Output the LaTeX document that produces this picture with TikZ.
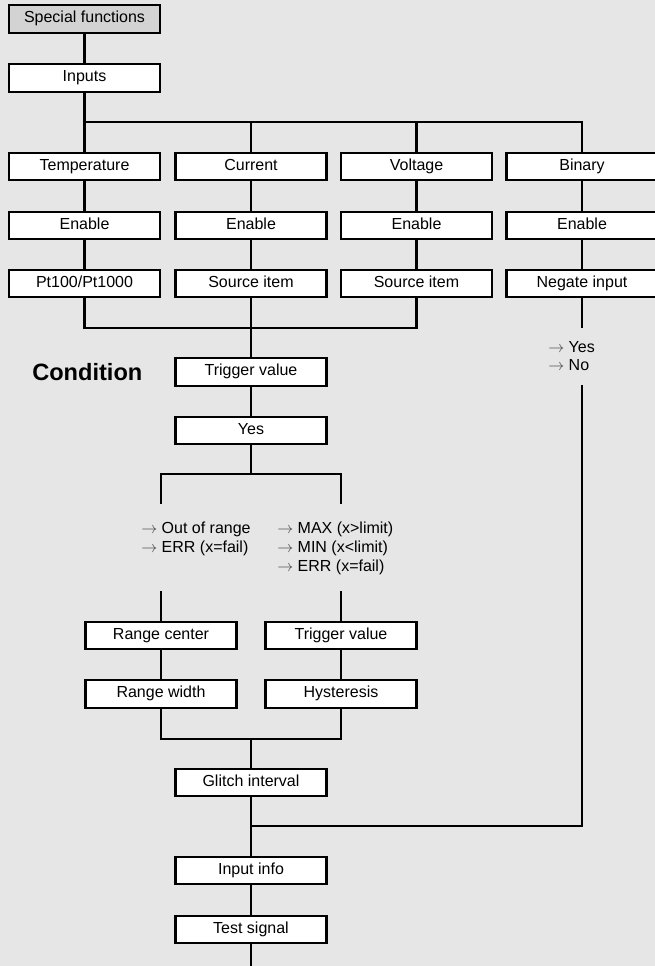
\documentclass[tikz,border=0pt]{standalone}
\usepackage{fontspec}
\setmainfont{Liberation Sans}
\definecolor{pagebg}{RGB}{230,230,230}
\definecolor{headfill}{RGB}{211,211,211}
\newcommand{\optarrow}{\textcolor{black!75}{$\rightarrow$}\ }
\begin{document}
\begin{tikzpicture}[x=0.75pt,y=-0.75pt,
  box/.style={draw=black, line width=1.6pt, fill=white,
    minimum width=113.25pt, minimum height=20.6pt, inner sep=0pt,
    font=\fontsize{12pt}{14pt}\selectfont, text height=8.2pt, text depth=2.8pt},
  headbox/.style={box, fill=headfill},
  wire/.style={line width=1.6pt, line cap=rect},
  note/.style={anchor=base west, inner sep=0pt, font=\fontsize{12pt}{14pt}\selectfont},
  title/.style={anchor=base west, inner sep=0pt, font=\fontsize{17.7pt}{20pt}\selectfont\bfseries}]
% page
\fill[pagebg] (0,0) rectangle (655,966);
\useasboundingbox (0,0) rectangle (655,966);

% top of the tree
\node[headbox] (special) at (84.5,19) {Special functions};
\node[box] (inputs) at (84.5,78) {Inputs};

% four input columns
\node[box] (temp) at (84.5,166.5) {Temperature};
\node[box] (cur)  at (251,166.5)  {Current};
\node[box] (volt) at (416.5,166.5) {Voltage};
\node[box] (bin)  at (582,166.5)  {Binary};

\node[box] (en1) at (84.5,225.5) {Enable};
\node[box] (en2) at (251,225.5)  {Enable};
\node[box] (en3) at (416.5,225.5) {Enable};
\node[box] (en4) at (582,225.5)  {Enable};

\node[box] (pt)   at (84.5,283.5) {Pt100/Pt1000};
\node[box] (src1) at (251,283.5)  {Source item};
\node[box] (src2) at (416.5,283.5) {Source item};
\node[box] (neg)  at (582,283.5)  {Negate input};

% condition section
\node[title] (cond) at (32,380.5) {Condition};
\node[box] (trig) at (251,372) {Trigger value};
\node[box] (yes)  at (251,430.5) {Yes};

\node[note] (l1) at (141,533.5) {\optarrow Out of range};
\node[note] (l2) at (141,552.5) {\optarrow ERR (x=fail)};
\node[note] (r1) at (277,533.5) {\optarrow MAX (x>limit)};
\node[note] (r2) at (277,552.5) {\optarrow MIN (x<limit)};
\node[note] (r3) at (277,571.5) {\optarrow ERR (x=fail)};

\node[box] (rc)   at (161,635.5) {Range center};
\node[box] (trg2) at (341,635.5) {Trigger value};
\node[box] (rw)   at (161,694)   {Range width};
\node[box] (hys)  at (341,694)   {Hysteresis};

\node[box] (glitch) at (251,782.5) {Glitch interval};
\node[box] (info)   at (251,870.5) {Input info};
\node[box] (test)   at (251,929.5) {Test signal};

% binary branch options
\node[note] (by) at (548,352.5) {\optarrow Yes};
\node[note] (bn) at (548,370.5) {\optarrow No};

% junction points
\coordinate (j1) at (84.5,122);
\coordinate (j2) at (251,328);
\coordinate (j3) at (251,474);
\coordinate (lsa) at (161,503);
\coordinate (rsa) at (341,503);
\coordinate (lsb) at (161,592);
\coordinate (rsb) at (341,592);
\coordinate (j5) at (251,739);
\coordinate (binstop) at (582,327);
\coordinate (binres) at (582,386);
\coordinate (j4) at (251,826);
\coordinate (bottom) at (251,970);

% connectors
\draw[wire] (special) -- (inputs);
\draw[wire] (inputs) -- (temp);
\draw[wire] (j1) -| (cur.north);
\draw[wire] (j1) -| (volt.north);
\draw[wire] (j1) -| (bin.north);

\draw[wire] (temp) -- (en1);
\draw[wire] (cur) -- (en2);
\draw[wire] (volt) -- (en3);
\draw[wire] (bin) -- (en4);
\draw[wire] (en1) -- (pt);
\draw[wire] (en2) -- (src1);
\draw[wire] (en3) -- (src2);
\draw[wire] (en4) -- (neg);

\draw[wire] (pt.south) |- (j2);
\draw[wire] (src2.south) |- (j2);
\draw[wire] (src1) -- (trig);
\draw[wire] (trig) -- (yes);
\draw[wire] (yes.south) -- (j3);
\draw[wire] (lsa) |- (j3) -| (rsa);

\draw[wire] (lsb) -- (rc.north);
\draw[wire] (rsb) -- (trg2.north);
\draw[wire] (rc) -- (rw);
\draw[wire] (trg2) -- (hys);
\draw[wire] (rw.south) |- (j5) -| (hys.south);
\draw[wire] (j5) -- (glitch.north);

\draw[wire] (neg.south) -- (binstop);
\draw[wire] (binres) |- (j4);
\draw[wire] (glitch) -- (info);
\draw[wire] (info) -- (test);
\draw[wire] (test.south) -- (bottom);
\end{tikzpicture}
\end{document}
